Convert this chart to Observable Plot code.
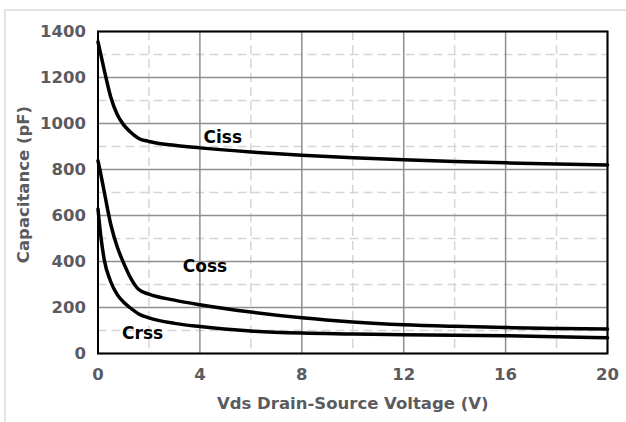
<!DOCTYPE html>
<html>
<head>
<meta charset="utf-8">
<script src="https://cdn.jsdelivr.net/npm/d3@7"></script>
<script src="https://cdn.jsdelivr.net/npm/@observablehq/plot@0.6"></script>
<style>
  html, body { margin: 0; padding: 0; background: #fff; }
  #wrap { position: relative; width: 626px; height: 422px; overflow: hidden; }
  #wrap svg { position: absolute; left: 0; top: 0; }
  #border { position: absolute; left: 4px; top: 9px; right: -2px; bottom: -2px;
            border-left: 2px solid #e3e3e3; border-top: 2px solid #e3e3e3; pointer-events: none; }
</style>
</head>
<body>
<div id="wrap"><div id="border"></div></div>
<script>
// Drain-source voltage sample points (V)
const vds  = [0, 0.1, 0.25, 0.5, 0.75, 1, 1.25, 1.6, 2, 3, 4, 6, 8, 10, 12, 14, 16, 18, 20];
// Capacitances (pF)
const ciss = [1355, 1305, 1230, 1115, 1040, 995, 965, 935, 922, 905, 894, 876, 862, 851, 842, 835, 829, 824, 820];
const coss = [838, 785, 700, 562, 465, 395, 335, 278, 258, 232, 212, 180, 155, 137, 125, 118, 113, 109, 106];
const crss = [628, 520, 405, 312, 257, 224, 200, 172, 155, 131, 117, 98, 89, 85, 81, 79, 77, 73, 68];

const seriesNames = ["Ciss", "Coss", "Crss"];
const labelVds = [4.9, 4.2, 1.75];
const labelPf  = [940, 380, 87];

const xTicks = [0, 4, 8, 12, 16, 20];
const yTicks = [0, 200, 400, 600, 800, 1000, 1200, 1400];
const xMinor = [2, 6, 10, 14, 18];
const yMinor = [100, 300, 500, 700, 900, 1100, 1300];

const xTitle = "Vds Drain-Source Voltage (V)";
const yTitle = "Capacitance (pF)";

const seriesValues = [ciss, coss, crss];
const rows = [];
seriesNames.forEach((name, i) => vds.forEach((v, j) => rows.push({series: name, vds: v, pf: seriesValues[i][j]})));
const labels = seriesNames.map((name, i) => ({name, vds: labelVds[i], pf: labelPf[i]}));

const font = "'DejaVu Sans', Verdana, sans-serif";
const grey = "#5b5b5f";

const chart = Plot.plot({
  width: 626,
  height: 422,
  marginLeft: 97.5,
  marginRight: 19,
  marginTop: 31,
  marginBottom: 69,
  style: {fontFamily: font, background: "transparent"},
  x: {domain: [0, 20]},
  y: {domain: [0, 1400]},
  marks: [
    Plot.gridX(xMinor, {stroke: "#d6d6d6", strokeOpacity: 1, strokeWidth: 1.5, strokeDasharray: "9,5"}),
    Plot.gridY(yMinor, {stroke: "#d6d6d6", strokeOpacity: 1, strokeWidth: 1.5, strokeDasharray: "9,5"}),
    Plot.gridX(xTicks, {stroke: "#8e8e8e", strokeOpacity: 1, strokeWidth: 1.5}),
    Plot.gridY(yTicks, {stroke: "#8e8e8e", strokeOpacity: 1, strokeWidth: 1.5}),
    Plot.axisX(xTicks, {tickSize: 0, tickPadding: 15, tickFormat: d => String(d), fontSize: 16.5, fontWeight: "bold", fill: grey, label: null}),
    Plot.axisY(yTicks, {tickSize: 0, tickPadding: 12, tickFormat: d => String(d), fontSize: 16.5, fontWeight: "bold", fill: grey, label: null}),
    Plot.frame({stroke: "#000", strokeWidth: 2}),
    Plot.line(rows, {x: "vds", y: "pf", z: "series", stroke: "#000", strokeWidth: 3.5, curve: "monotone-x"}),
    Plot.text(labels, {x: "vds", y: "pf", text: "name", fontSize: 17, fontWeight: "bold", fill: "#000"}),
    Plot.text([xTitle], {frameAnchor: "bottom", lineAnchor: "middle", textAnchor: "middle", dy: 50, text: d => d, fontSize: 16.5, fontWeight: "bold", fill: grey}),
    Plot.text([yTitle], {frameAnchor: "left", lineAnchor: "middle", textAnchor: "middle", dx: -74, dy: -8, rotate: -90, text: d => d, fontSize: 16.5, fontWeight: "bold", fill: grey})
  ]
});
document.getElementById("wrap").insertBefore(chart, document.getElementById("border"));
</script>
</body>
</html>
